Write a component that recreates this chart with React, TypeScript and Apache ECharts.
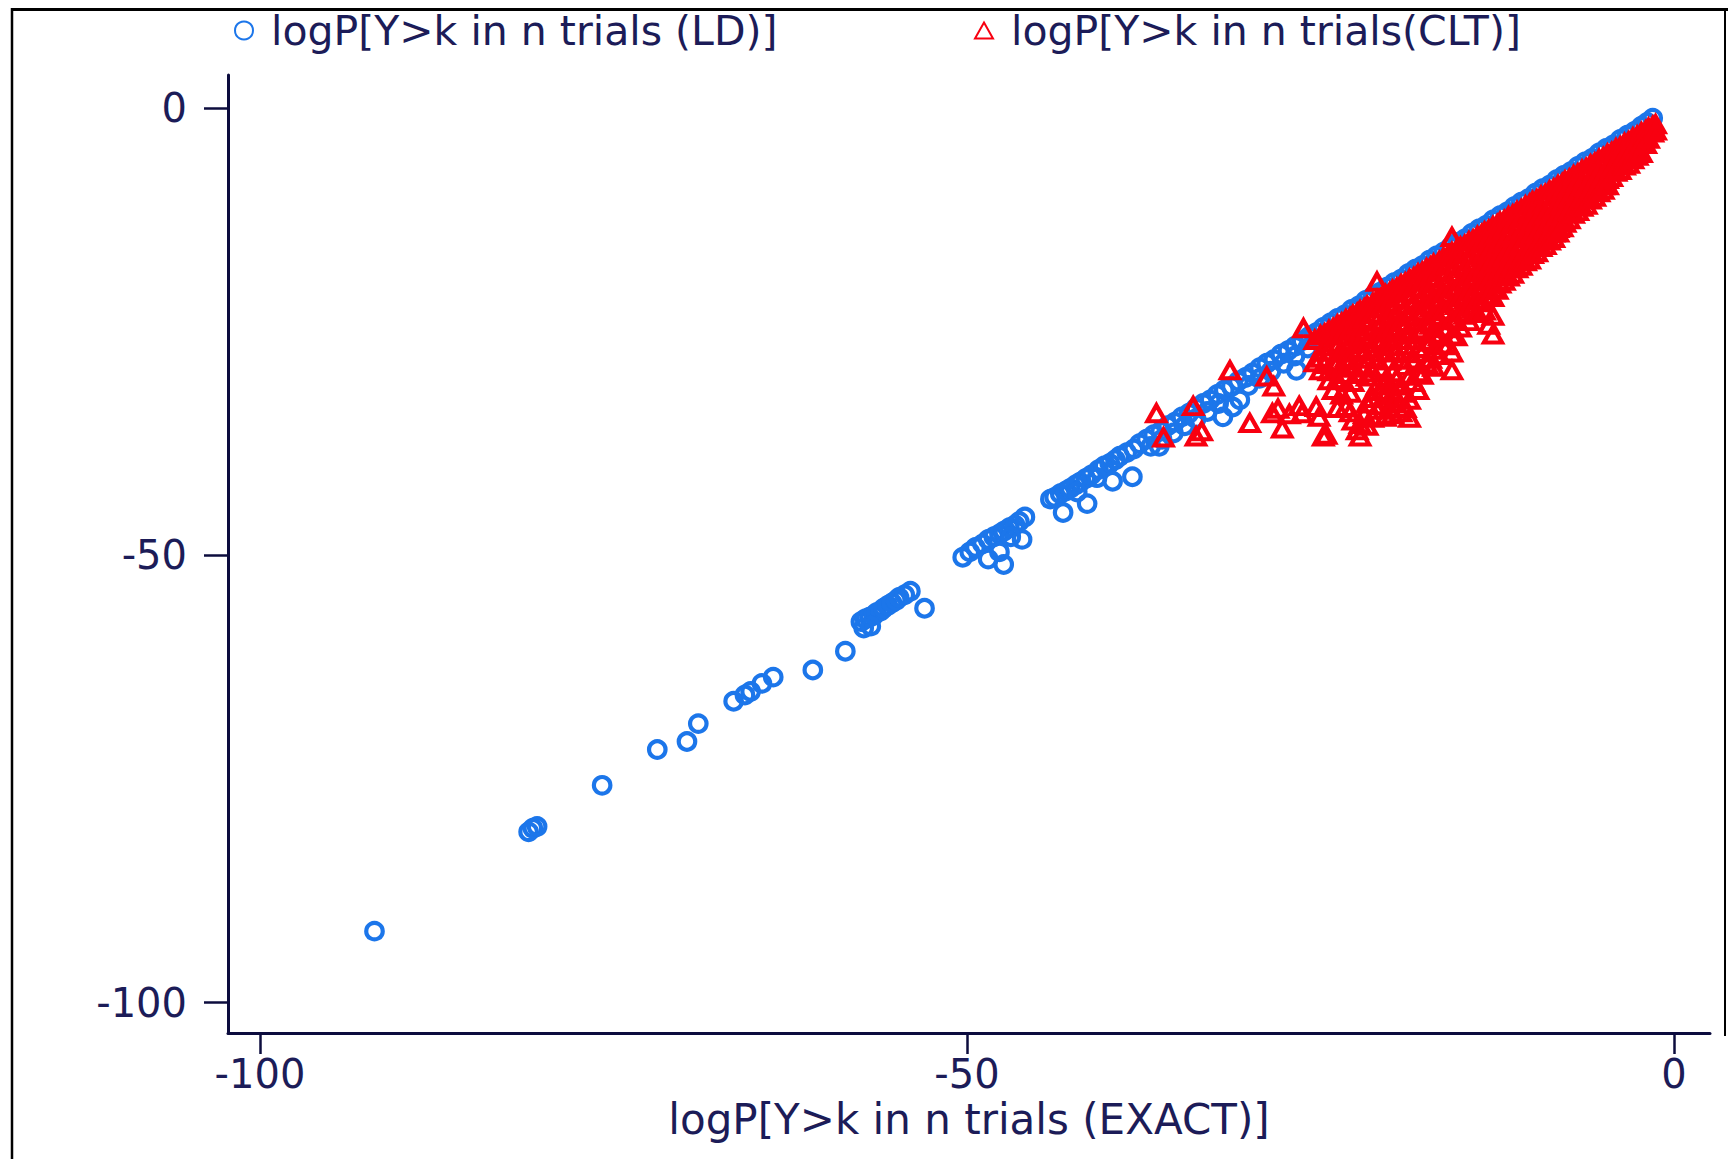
import React, { useEffect, useRef } from 'react';
import * as echarts from 'echarts';

const xTicks = [-100, -50, 0];
const yTicks = [-100, -50, 0];
const ldName = 'logP[Y>k in n trials (LD)]';
const cltName = 'logP[Y>k in n trials(CLT)]';
const xTitle = 'logP[Y>k in n trials (EXACT)]';

// [EXACT, LD]
const ldPoints: [number, number][] = [
  [-91.9, -92.0],
  [-81.0, -80.9], [-80.7, -80.5], [-80.4, -80.3],
  [-75.8, -75.7],
  [-71.9, -71.7],
  [-69.8, -70.8], [-69.0, -68.8],
  [-66.5, -66.3], [-65.7, -65.6], [-65.3, -65.2], [-64.5, -64.3], [-63.7, -63.6],
  [-60.9, -62.8],
  [-58.6, -60.7],
  [-57.5, -57.4], [-57.2, -57.1], [-56.9, -56.9], [-56.6, -56.7], [-56.4, -56.4], [-56.1, -56.2],
  [-55.9, -55.9], [-55.6, -55.6], [-55.3, -55.3], [-55.0, -55.0], [-54.8, -54.7], [-54.4, -54.4],
  [-54.0, -54.0], [-53.0, -55.9], [-56.8, -57.9], [-57.3, -58.1],
  [-50.3, -50.2], [-49.8, -49.6], [-49.4, -49.1], [-48.9, -48.7], [-48.5, -48.2], [-48.1, -47.9],
  [-47.7, -47.6], [-47.4, -47.3], [-47.0, -46.9], [-46.6, -46.6], [-46.3, -46.2], [-45.9, -45.7],
  [-48.5, -50.4], [-47.4, -51.0], [-46.1, -48.2], [-47.7, -49.6], [-46.9, -47.9],
  [-44.1, -43.7], [-43.8, -43.5], [-43.4, -43.1], [-43.0, -42.8], [-42.7, -42.5], [-42.3, -42.1],
  [-42.0, -41.8], [-41.6, -41.4], [-41.2, -41.0], [-40.7, -40.4], [-40.3, -40.0], [-39.9, -39.7],
  [-39.5, -39.3], [-39.2, -38.9], [-38.7, -38.5], [-38.2, -38.1], [-37.8, -37.5],
  [-43.2, -45.2], [-41.5, -44.2], [-39.7, -41.7], [-38.3, -41.2], [-40.8, -41.3], [-42.2, -42.9],
  [-37.3, -37.0], [-36.8, -36.5], [-36.3, -36.1], [-35.8, -35.5], [-35.3, -35.1], [-34.8, -34.5],
  [-34.3, -34.1], [-33.8, -33.5], [-33.3, -33.0], [-32.8, -32.6], [-32.3, -32.0], [-31.8, -31.5],
  [-31.3, -31.1], [-30.8, -30.5], [-30.3, -30.1], [-29.8, -29.6], [-29.3, -29.0], [-28.8, -28.5],
  [-28.3, -28.1], [-27.8, -27.5], [-27.3, -27.1], [-26.8, -26.6], [-26.3, -26.0], [-25.8, -25.5],
  [-25.3, -25.1], [-24.8, -24.5], [-24.3, -24.0], [-23.8, -23.5], [-23.3, -23.1], [-22.8, -22.5],
  [-22.3, -22.1], [-21.8, -21.5], [-21.3, -21.0], [-20.8, -20.6], [-20.3, -20.0], [-19.8, -19.5],
  [-19.3, -19.1], [-18.8, -18.5], [-18.3, -18.0], [-17.8, -17.6], [-17.3, -17.0], [-16.8, -16.5],
  [-16.3, -16.1], [-15.8, -15.5], [-15.3, -15.0], [-14.8, -14.6], [-14.3, -14.0], [-13.8, -13.5],
  [-13.3, -13.1], [-12.8, -12.5], [-12.3, -12.0], [-11.8, -11.6], [-11.3, -11.0], [-10.8, -10.5],
  [-10.3, -10.1], [-9.8, -9.5], [-9.3, -9.0], [-8.8, -8.6], [-8.3, -8.0], [-7.8, -7.5],
  [-7.3, -7.1], [-6.8, -6.5], [-6.3, -6.0], [-5.8, -5.6], [-5.3, -5.0], [-4.8, -4.5],
  [-4.3, -4.1], [-3.8, -3.5], [-3.3, -3.0], [-2.8, -2.6], [-2.3, -2.0], [-1.9, -1.6], [-1.5, -1.1],
  [-37.0, -37.8], [-36.2, -37.0], [-35.4, -36.3], [-34.6, -35.5], [-33.8, -34.7], [-33.0, -33.9],
  [-32.2, -33.0], [-30.1, -31.0], [-29.3, -30.2], [-28.5, -29.4], [-27.6, -28.5], [-26.8, -27.7],
  [-25.9, -26.8], [-25.0, -25.9], [-24.1, -25.0], [-23.2, -24.1], [-22.3, -23.2],
  [-36.4, -37.8], [-31.9, -34.5], [-31.2, -33.4], [-30.7, -32.6], [-26.7, -29.3],
];

// [EXACT, CLT] — scattered triangles below the band (x < -25)
const cltSparse: [number, number][] = [
  [-36.6, -34.1], [-36.1, -36.8],
  [-34.0, -33.3], [-33.8, -36.7], [-33.4, -36.1],
  [-31.4, -29.3],
  [-30.0, -35.2],
  [-28.8, -30.0], [-28.3, -31.1], [-28.4, -34.1], [-28.0, -33.6],
  [-27.7, -35.8], [-27.2, -34.2], [-26.5, -33.3], [-26.3, -34.1], [-26.2, -24.6],
  [-25.3, -33.4], [-25.1, -34.5], [-24.8, -36.7], [-24.6, -36.5],
];

// [EXACT, CLT] — dense wedge (x from -25.4 to -1.3)
const cltDense: [number, number][] = [
  [-25.4, -25.9], [-25.4, -28.4],
  [-25.0, -25.4], [-25.0, -27.9], [-25.0, -29.3],
  [-24.7, -25.2], [-24.7, -26.6], [-24.7, -28.6],
  [-24.4, -24.8], [-24.4, -27.2], [-24.4, -29.4], [-24.4, -30.4],
  [-24.1, -24.6], [-24.1, -26.2], [-24.1, -28.3], [-24.1, -31.5],
  [-23.8, -24.2], [-23.8, -26.6], [-23.8, -28.5], [-23.8, -30.3], [-23.8, -33.5],
  [-23.5, -24.0], [-23.5, -25.4], [-23.5, -27.3], [-23.5, -29.0], [-23.5, -32.0],
  [-23.2, -23.6], [-23.2, -26.0], [-23.2, -27.9], [-23.2, -29.7], [-23.2, -33.4],
  [-22.9, -23.4], [-22.9, -24.8], [-22.9, -26.4], [-22.9, -28.2], [-22.9, -31.8], [-22.9, -34.0],
  [-22.7, -23.1], [-22.7, -25.5], [-22.7, -27.3], [-22.7, -28.9], [-22.7, -30.6], [-22.7, -34.9],
  [-22.4, -22.9], [-22.4, -24.2], [-22.4, -26.0], [-22.4, -29.6], [-22.4, -36.0],
  [-22.2, -22.6], [-22.2, -25.0], [-22.2, -26.9], [-22.2, -35.3], [-22.2, -36.7],
  [-21.9, -22.4], [-21.9, -23.5], [-21.9, -25.4], [-21.9, -27.2], [-21.9, -29.0], [-21.9, -34.2],
  [-21.7, -22.1], [-21.7, -24.4], [-21.7, -26.3], [-21.7, -28.0], [-21.7, -30.0], [-21.7, -33.0], [-21.7, -35.5],
  [-21.3, -21.8], [-21.3, -23.0], [-21.3, -24.8], [-21.3, -26.9], [-21.3, -29.5], [-21.3, -32.4], [-21.3, -34.6],
  [-21.0, -19.4], [-21.0, -21.4], [-21.0, -23.8], [-21.0, -25.8], [-21.0, -28.0], [-21.0, -31.0], [-21.0, -33.7],
  [-20.7, -21.2], [-20.7, -22.3], [-20.7, -24.1], [-20.7, -26.2], [-20.7, -29.0], [-20.7, -31.6], [-20.7, -33.2],
  [-20.4, -20.8], [-20.4, -23.2], [-20.4, -25.1], [-20.4, -27.3], [-20.4, -30.4], [-20.4, -32.0], [-20.4, -34.5],
  [-20.1, -20.6], [-20.1, -21.7], [-20.1, -23.5], [-20.1, -25.6], [-20.1, -28.2], [-20.1, -30.8], [-20.1, -33.6],
  [-19.9, -20.3], [-19.9, -22.6], [-19.9, -24.5], [-19.9, -26.6], [-19.9, -29.5], [-19.9, -31.9], [-19.9, -33.0], [-19.9, -34.2],
  [-19.6, -20.1], [-19.6, -21.2], [-19.6, -23.0], [-19.6, -24.9], [-19.6, -27.2], [-19.6, -30.2], [-19.6, -32.4],
  [-19.3, -19.7], [-19.3, -22.0], [-19.3, -23.9], [-19.3, -25.9], [-19.3, -28.1], [-19.3, -31.0], [-19.3, -34.0],
  [-19.0, -19.5], [-19.0, -20.6], [-19.0, -22.5], [-19.0, -24.3], [-19.0, -26.5], [-19.0, -28.8], [-19.0, -31.8], [-19.0, -33.5],
  [-18.7, -19.1], [-18.7, -21.4], [-18.7, -23.3], [-18.7, -25.3], [-18.7, -27.4], [-18.7, -29.9], [-18.7, -32.6], [-18.7, -34.6],
  [-18.4, -18.9], [-18.4, -20.0], [-18.4, -21.8], [-18.4, -23.8], [-18.4, -25.9], [-18.4, -28.1], [-18.4, -30.6],
  [-18.1, -18.5], [-18.1, -20.8], [-18.1, -22.7], [-18.1, -24.7], [-18.1, -26.8], [-18.1, -29.5], [-18.1, -31.5],
  [-17.8, -18.3], [-17.8, -19.4], [-17.8, -21.2], [-17.8, -23.0], [-17.8, -24.9], [-17.8, -27.3], [-17.8, -29.8],
  [-17.5, -17.9], [-17.5, -20.2], [-17.5, -22.0], [-17.5, -23.9], [-17.5, -26.0], [-17.5, -28.5],
  [-17.2, -17.7], [-17.2, -18.8], [-17.2, -20.5], [-17.2, -22.3], [-17.2, -24.2], [-17.2, -26.1], [-17.2, -28.0],
  [-17.0, -17.4], [-17.0, -19.6], [-17.0, -21.4], [-17.0, -23.2], [-17.0, -25.2], [-17.0, -27.0], [-17.0, -28.9],
  [-16.6, -17.1], [-16.6, -18.2], [-16.6, -19.8], [-16.6, -21.6], [-16.6, -23.5], [-16.6, -25.5], [-16.6, -27.6],
  [-16.3, -16.7], [-16.3, -19.0], [-16.3, -20.7], [-16.3, -22.6], [-16.3, -24.6], [-16.3, -26.5],
  [-16.0, -16.5], [-16.0, -17.5], [-16.0, -19.2], [-16.0, -21.0], [-16.0, -22.7], [-16.0, -24.5], [-16.0, -26.4],
  [-15.7, -14.4], [-15.7, -16.1], [-15.7, -18.4], [-15.7, -20.1], [-15.7, -21.8], [-15.7, -23.6], [-15.7, -25.4], [-15.7, -27.3], [-15.7, -29.3],
  [-15.4, -15.9], [-15.4, -16.9], [-15.4, -18.6], [-15.4, -20.3], [-15.4, -22.0], [-15.4, -23.7], [-15.4, -25.5],
  [-15.1, -15.5], [-15.1, -17.7], [-15.1, -19.4], [-15.1, -21.1], [-15.1, -22.8], [-15.1, -24.5],
  [-14.8, -15.3], [-14.8, -16.3], [-14.8, -17.9], [-14.8, -19.7], [-14.8, -21.4], [-14.8, -23.1],
  [-14.5, -14.9], [-14.5, -17.1], [-14.5, -18.8], [-14.5, -20.5], [-14.5, -22.2], [-14.5, -23.8],
  [-14.2, -14.7], [-14.2, -15.7], [-14.2, -17.3], [-14.2, -19.0], [-14.2, -20.7], [-14.2, -22.4],
  [-13.9, -14.3], [-13.9, -16.5], [-13.9, -18.2], [-13.9, -19.9], [-13.9, -21.5], [-13.9, -22.9],
  [-13.6, -14.1], [-13.6, -15.1], [-13.6, -16.7], [-13.6, -18.4], [-13.6, -20.1], [-13.6, -21.7],
  [-13.4, -13.8], [-13.4, -16.0], [-13.4, -17.6], [-13.4, -19.3], [-13.4, -20.9], [-13.4, -22.6],
  [-13.1, -13.6], [-13.1, -14.6], [-13.1, -16.2], [-13.1, -17.8], [-13.1, -19.4], [-13.1, -20.9], [-13.1, -24.2],
  [-12.8, -13.2], [-12.8, -15.4], [-12.8, -17.0], [-12.8, -18.6], [-12.8, -20.2], [-12.8, -21.1], [-12.8, -23.2], [-12.8, -25.3],
  [-12.5, -13.0], [-12.5, -14.0], [-12.5, -15.6], [-12.5, -17.2], [-12.5, -18.8], [-12.5, -20.3],
  [-12.3, -12.7], [-12.3, -14.8], [-12.3, -16.4], [-12.3, -18.0], [-12.3, -19.6],
  [-12.0, -12.5], [-12.0, -13.5], [-12.0, -15.0], [-12.0, -16.6], [-12.0, -18.2], [-12.0, -19.3],
  [-11.7, -12.1], [-11.7, -14.2], [-11.7, -15.8], [-11.7, -17.3], [-11.7, -18.8],
  [-11.4, -11.9], [-11.4, -12.9], [-11.4, -14.4], [-11.4, -16.0], [-11.4, -17.5], [-11.4, -18.5],
  [-11.1, -11.5], [-11.1, -13.6], [-11.1, -15.1], [-11.1, -16.6], [-11.1, -17.9],
  [-10.8, -11.3], [-10.8, -12.3], [-10.8, -13.8], [-10.8, -15.3], [-10.8, -16.8], [-10.8, -17.6],
  [-10.5, -10.9], [-10.5, -13.0], [-10.5, -14.5], [-10.5, -16.0], [-10.5, -17.1],
  [-10.2, -10.7], [-10.2, -11.7], [-10.2, -13.2], [-10.2, -14.6], [-10.2, -16.0], [-10.2, -16.9],
  [-10.0, -10.4], [-10.0, -12.4], [-10.0, -13.9], [-10.0, -15.3], [-10.0, -16.3],
  [-9.7, -10.2], [-9.7, -11.1], [-9.7, -12.6], [-9.7, -14.0], [-9.7, -15.4], [-9.7, -16.1],
  [-9.4, -9.8], [-9.4, -11.8], [-9.4, -13.3], [-9.4, -14.7], [-9.4, -15.5],
  [-9.1, -9.6], [-9.1, -10.5], [-9.1, -11.9], [-9.1, -13.4], [-9.1, -14.7], [-9.1, -15.3],
  [-8.8, -9.2], [-8.8, -11.2], [-8.8, -12.6], [-8.8, -14.0], [-8.8, -14.8],
  [-8.5, -9.0], [-8.5, -9.9], [-8.5, -11.3], [-8.5, -12.7], [-8.5, -13.9], [-8.5, -14.5],
  [-8.2, -8.6], [-8.2, -10.6], [-8.2, -12.0], [-8.2, -13.4], [-8.2, -13.9],
  [-7.9, -8.4], [-7.9, -9.3], [-7.9, -10.7], [-7.9, -12.1], [-7.9, -13.3],
  [-7.7, -8.1], [-7.7, -10.0], [-7.7, -11.4], [-7.7, -12.8],
  [-7.4, -7.9], [-7.4, -8.8], [-7.4, -10.1], [-7.4, -11.5], [-7.4, -12.4],
  [-7.1, -7.5], [-7.1, -9.3], [-7.1, -10.6], [-7.1, -11.8],
  [-6.8, -7.3], [-6.8, -8.2], [-6.8, -9.5], [-6.8, -10.8], [-6.8, -11.5],
  [-6.5, -6.9], [-6.5, -8.7], [-6.5, -10.0], [-6.5, -11.0],
  [-6.2, -6.7], [-6.2, -7.6], [-6.2, -8.8], [-6.2, -10.0], [-6.2, -10.8],
  [-5.9, -6.3], [-5.9, -8.0], [-5.9, -9.2], [-5.9, -10.2],
  [-5.6, -6.1], [-5.6, -7.0], [-5.6, -8.2], [-5.6, -9.3], [-5.6, -9.9],
  [-5.3, -5.7], [-5.3, -7.3], [-5.3, -8.5], [-5.3, -9.4],
  [-5.0, -5.5], [-5.0, -6.4], [-5.0, -7.5], [-5.0, -8.6], [-5.0, -9.1],
  [-4.7, -5.1], [-4.7, -6.7], [-4.7, -7.9], [-4.7, -8.6],
  [-4.4, -4.9], [-4.4, -5.7], [-4.4, -6.8], [-4.4, -7.7],
  [-4.1, -4.5], [-4.1, -6.0], [-4.1, -7.1],
  [-3.8, -4.3], [-3.8, -5.1], [-3.8, -6.1], [-3.8, -6.9],
  [-3.5, -3.9], [-3.5, -5.3], [-3.5, -6.4],
  [-3.2, -3.7], [-3.2, -4.5], [-3.2, -5.4], [-3.2, -6.2],
  [-2.9, -3.3], [-2.9, -4.6], [-2.9, -5.7],
  [-2.6, -3.1], [-2.6, -3.8], [-2.6, -4.6], [-2.6, -5.3],
  [-2.3, -2.7], [-2.3, -4.0], [-2.3, -5.0],
  [-2.0, -2.5], [-2.0, -3.2], [-2.0, -4.0],
  [-1.8, -2.2], [-1.8, -3.4],
  [-1.5, -2.0], [-1.5, -2.7],
  [-1.3, -1.8], [-1.3, -2.5],
];

export default function App() {
  const ref = useRef<HTMLDivElement>(null);
  useEffect(() => {
    if (!ref.current) return;
    const chart = echarts.init(ref.current, null, { renderer: 'svg' });
    const navy = '#1c1c58';
    const axisColor = '#0c0c3e';
    const font = 'DejaVu Sans';
    const blue = '#1c76ea';
    const red = '#f80010';
    chart.setOption({
      animation: false,
      backgroundColor: '#ffffff',
      textStyle: { fontFamily: font },
      grid: { left: 228, right: 18, top: 75, bottom: 126, containLabel: false },
      legend: [
        {
          left: 234, top: 10, padding: 0, itemWidth: 18, itemHeight: 18,
          selectedMode: false,
          textStyle: { fontSize: 41, color: navy, fontFamily: font, padding: [0, 0, 0, 13] },
          data: [{ name: ldName, icon: 'circle', itemStyle: { color: 'rgba(0,0,0,0)', borderColor: blue, borderWidth: 2 } }],
        },
        {
          left: 974, top: 10, padding: 0, itemWidth: 18, itemHeight: 16,
          selectedMode: false,
          textStyle: { fontSize: 41, color: navy, fontFamily: font, padding: [0, 0, 0, 13] },
          data: [{ name: cltName, icon: 'triangle', itemStyle: { color: 'rgba(0,0,0,0)', borderColor: red, borderWidth: 2 } }],
        },
      ],
      xAxis: {
        type: 'value', min: -102.26, max: 2.55,
        name: xTitle, nameLocation: 'middle', nameGap: 58,
        nameTextStyle: { fontSize: 42, color: navy, fontFamily: font },
        axisLine: { show: true, onZero: false, lineStyle: { color: axisColor, width: 3 } },
        axisTick: { show: true, length: 21, customValues: xTicks, lineStyle: { color: axisColor, width: 2.5 } },
        axisLabel: { show: true, customValues: xTicks, fontSize: 40, color: navy, margin: 21, fontFamily: font },
        splitLine: { show: false },
      },
      yAxis: {
        type: 'value', min: -103.39, max: 3.72,
        axisLine: { show: true, onZero: false, lineStyle: { color: axisColor, width: 3 } },
        axisTick: { show: true, length: 24, customValues: yTicks, lineStyle: { color: axisColor, width: 2.5 } },
        axisLabel: { show: true, customValues: yTicks, fontSize: 40, color: navy, margin: 41, fontFamily: font },
        splitLine: { show: false },
      },
      series: [
        {
          type: 'scatter', name: ldName, data: ldPoints, symbol: 'circle', symbolSize: 16.5,
          itemStyle: { color: 'rgba(0,0,0,0)', borderColor: blue, borderWidth: 4.2, opacity: 1 },
          emphasis: { disabled: true },
        },
        {
          type: 'scatter', name: cltName, data: [...cltSparse, ...cltDense], symbol: 'triangle', symbolSize: [18, 16],
          itemStyle: { color: 'rgba(0,0,0,0)', borderColor: red, borderWidth: 4.2, opacity: 1 },
          emphasis: { disabled: true },
        },
      ],
      graphic: [
        { type: 'line', shape: { x1: 12, y1: 9.5, x2: 1728, y2: 9.5 }, style: { stroke: '#000', lineWidth: 3 }, silent: true },
        { type: 'line', shape: { x1: 12, y1: 8, x2: 12, y2: 1159 }, style: { stroke: '#000', lineWidth: 2.5 }, silent: true },
        { type: 'line', shape: { x1: 1725, y1: 8, x2: 1725, y2: 1036 }, style: { stroke: '#000', lineWidth: 2 }, silent: true },
      ],
    });
    return () => chart.dispose();
  }, []);
  return (
    <div
      ref={ref}
      style={{ position: 'absolute', left: 0, top: 0, width: 1728, height: 1159, background: '#ffffff' }}
    />
  );
}
